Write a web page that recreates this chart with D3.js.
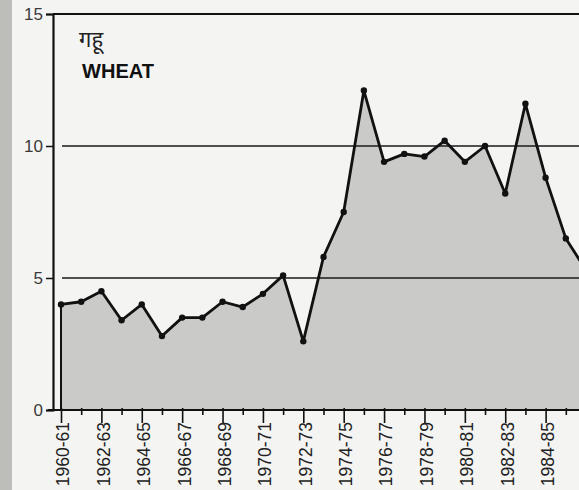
<!DOCTYPE html>
<html lang="en">
<head>
  <meta charset="UTF-8">
  <title>Wheat</title>
  <script src="https://cdn.jsdelivr.net/npm/d3@7"></script>
  <style>
    body { margin: 0; background: #f4f4f2; }
    svg { display: block; }
  </style>
</head>
<body>
  <svg id="chart"></svg>
  <script>
    // data (values per agricultural year)
    var years = ["1960-61", "1961-62", "1962-63", "1963-64", "1964-65", "1965-66", "1966-67",
                 "1967-68", "1968-69", "1969-70", "1970-71", "1971-72", "1972-73", "1973-74",
                 "1974-75", "1975-76", "1976-77", "1977-78", "1978-79", "1979-80", "1980-81",
                 "1981-82", "1982-83", "1983-84", "1984-85", "1985-86", "1986-87"];
    var wheat = [4.0, 4.1, 4.5, 3.4, 4.0, 2.8, 3.5, 3.5, 4.1, 3.9, 4.4, 5.1, 2.6, 5.8,
                 7.5, 12.1, 9.4, 9.7, 9.6, 10.2, 9.4, 10.0, 8.2, 11.6, 8.8, 6.5, 5.3];
    var yTicks = [0, 5, 10, 15];
    var gridVals = [5, 10];
    var titleLocal = "गहू";
    var titleEn = "WHEAT";

    var width = 579, height = 490;
    var svg = d3.select("#chart").attr("width", width).attr("height", height);

    var x = d3.scalePoint().domain(years).range([61, 586]);
    var y = d3.scaleLinear().domain([0, 15]).range([410, 14]);

    var rows = years.map(function(d, i) { return { year: d, v: wheat[i] }; });

    // scanned page edge on the left
    svg.append("rect").attr("x", 0).attr("y", 0).attr("width", 12).attr("height", height)
        .attr("fill", "#8f8f8d").attr("opacity", 0.55);

    // filled area
    var area = d3.area()
        .x(function(d) { return x(d.year); })
        .y0(y(0))
        .y1(function(d) { return y(d.v); });
    svg.append("path").datum(rows)
        .attr("d", area)
        .attr("fill", "#cacac8");

    // left edge of the area
    svg.append("line")
        .attr("x1", x(years[0])).attr("x2", x(years[0]))
        .attr("y1", y(wheat[0])).attr("y2", y(0))
        .attr("stroke", "#111").attr("stroke-width", 2);

    // grid lines
    svg.append("g").selectAll("line")
        .data(gridVals).enter().append("line")
        .attr("x1", 62).attr("x2", width)
        .attr("y1", function(d) { return y(d); })
        .attr("y2", function(d) { return y(d); })
        .attr("stroke", "#1a1a1a").attr("stroke-width", 1.5);

    // top frame line
    svg.append("line")
        .attr("x1", 53).attr("x2", width)
        .attr("y1", y(15)).attr("y2", y(15))
        .attr("stroke", "#111").attr("stroke-width", 2);

    // data line and dots
    var line = d3.line()
        .x(function(d) { return x(d.year); })
        .y(function(d) { return y(d.v); });
    svg.append("path").datum(rows)
        .attr("d", line)
        .attr("fill", "none")
        .attr("stroke", "#111")
        .attr("stroke-width", 2.8)
        .attr("stroke-linejoin", "round");
    svg.append("g").selectAll("circle")
        .data(rows).enter().append("circle")
        .attr("cx", function(d) { return x(d.year); })
        .attr("cy", function(d) { return y(d.v); })
        .attr("r", 3.2)
        .attr("fill", "#111");

    // y axis
    var yAxis = svg.append("g")
        .attr("transform", "translate(53,0)")
        .call(d3.axisLeft(y).tickValues(yTicks).tickSize(7).tickPadding(3));
    yAxis.select(".domain").attr("stroke", "#111").attr("stroke-width", 2.2);
    yAxis.selectAll(".tick line").attr("stroke", "#111").attr("stroke-width", 1.5);
    yAxis.selectAll("text")
        .style("font-family", "'Liberation Sans', Arial, sans-serif")
        .style("font-size", "17px")
        .attr("fill", "#3a3a3a");

    // x axis - every other year labelled, last one falls off the page
    var xAxis = svg.append("g")
        .attr("transform", "translate(0,410)")
        .call(d3.axisBottom(x)
            .tickSizeOuter(0)
            .tickFormat(function(d, i) { return (i % 2 === 0 && x(d) < width - 10) ? d : ""; }));
    xAxis.select(".domain")
        .attr("d", "M48,0H" + width)
        .attr("stroke", "#111").attr("stroke-width", 2.2);
    xAxis.selectAll(".tick line")
        .attr("y1", -2)
        .attr("y2", function(d, i) { return i % 2 === 0 ? 13 : 5; })
        .attr("stroke", "#111").attr("stroke-width", 1.6);
    xAxis.selectAll(".tick text")
        .attr("transform", "rotate(-90)")
        .attr("x", -12)
        .attr("y", 0)
        .attr("dy", "0.45em")
        .attr("text-anchor", "end")
        .style("font-family", "'Liberation Sans', Arial, sans-serif")
        .style("font-size", "17.5px")
        .attr("fill", "#222");

    // titles
    svg.append("text")
        .attr("x", 79).attr("y", 47)
        .style("font-family", "'Noto Sans', 'DejaVu Sans', sans-serif")
        .style("font-size", "22px")
        .attr("fill", "#222")
        .text(titleLocal);
    svg.append("text")
        .attr("x", 82).attr("y", 78)
        .attr("textLength", 72)
        .attr("lengthAdjust", "spacingAndGlyphs")
        .style("font-family", "'Liberation Sans', Arial, sans-serif")
        .style("font-size", "21px")
        .style("font-weight", "bold")
        .attr("fill", "#111")
        .text(titleEn);
  </script>
</body>
</html>
